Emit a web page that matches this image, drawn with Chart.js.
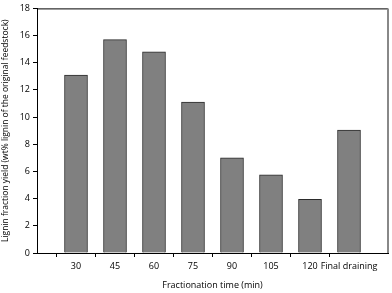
<!DOCTYPE html>
<html>
<head>
<meta charset="utf-8">
<script src="https://cdn.jsdelivr.net/npm/chart.js@4"></script>
<style>
  html, body { margin: 0; padding: 0; background: #fff; }
  #wrap { width: 392px; height: 293px; }
</style>
</head>
<body>
<div id="wrap"><canvas id="c" width="392" height="293"></canvas></div>
<script>
// ── Data ────────────────────────────────────────────────────────────────────
const categories = ['30', '45', '60', '75', '90', '105', '120', 'Final draining'];
const yieldValues = [13.1, 15.7, 14.8, 11.1, 7.0, 5.75, 3.95, 9.05];
const yTicks = [0, 2, 4, 6, 8, 10, 12, 14, 16, 18];

// empty slot on both ends, like the original axis
const labels = ['', ...categories, ''];
const values = [null, ...yieldValues, null];

const font = { family: '"Open Sans", "Liberation Sans", sans-serif', size: 9 };

// frame: black top line, grey right edge
const framePlugin = {
  id: 'frame',
  afterDraw(chart) {
    const { ctx, chartArea: a } = chart;
    ctx.save();
    ctx.strokeStyle = '#000';
    ctx.lineWidth = 1;
    ctx.beginPath();
    ctx.moveTo(a.left, a.top + 0.5);
    ctx.lineTo(a.right, a.top + 0.5);
    ctx.stroke();
    ctx.strokeStyle = '#888';
    ctx.lineWidth = 2;
    ctx.beginPath();
    ctx.moveTo(a.right, a.top);
    ctx.lineTo(a.right, a.bottom);
    ctx.stroke();
    ctx.restore();
  },
};

new Chart(document.getElementById('c'), {
  type: 'bar',
  data: {
    labels,
    datasets: [{
      data: values,
      backgroundColor: '#808080',
      borderColor: '#2b2b2b',
      borderWidth: 1,
      barThickness: 23,
    }],
  },
  options: {
    responsive: false,
    animation: false,
    layout: { padding: { top: 4, right: 2, left: 0, bottom: 2 } },
    plugins: { legend: { display: false }, tooltip: { enabled: false } },
    scales: {
      x: {
        offset: false,
        grid: {
          drawOnChartArea: false,
          tickLength: 4,
          tickColor: c => (labels[c.index] ? '#000' : 'rgba(0,0,0,0)'),
        },
        border: { color: '#000', width: 1 },
        ticks: { color: '#000', font, maxRotation: 0, autoSkip: false, padding: 4 },
        title: { display: true, text: 'Fractionation time (min)', color: '#000', font, padding: { top: 4, bottom: 0 } },
        afterFit(s) { s.height = 38; },
      },
      y: {
        min: 0,
        max: 18,
        afterBuildTicks(s) { s.ticks = yTicks.map(v => ({ value: v })); },
        grid: { drawOnChartArea: false, tickLength: 4, tickColor: '#000' },
        border: { color: '#000', width: 1 },
        ticks: { color: '#000', font, padding: 3 },
        title: { display: true, text: 'Lignin fraction yield (wt% lignin of the original feedstock)', color: '#000', font: { ...font, size: 8.5 }, padding: { top: 0, bottom: 2 } },
        afterFit(s) { s.width = 37; },
      },
    },
  },
  plugins: [framePlugin],
});
</script>
</body>
</html>
